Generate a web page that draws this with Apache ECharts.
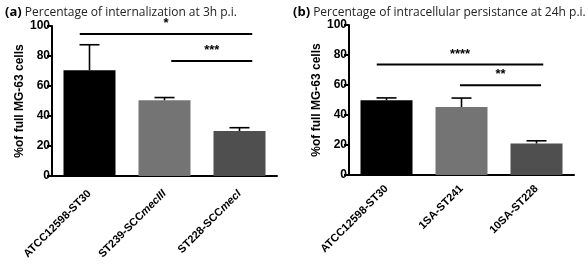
<!DOCTYPE html>
<html>
<head>
<meta charset="utf-8">
<script src="https://cdn.jsdelivr.net/npm/echarts@6/dist/echarts.min.js"></script>
<style>
  html, body { margin: 0; padding: 0; background: #fff; }
  #chart { width: 588px; height: 266px; }
</style>
</head>
<body>
<div id="chart"></div>
<script>
// panel (a) : internalization at 3h
const catsA = ['ATCC12598-ST30', 'ST239-SCCmecIII', 'ST228-SCCmecI'];
const meansA = [70.5, 50.5, 30];
const sdA = [17, 1.8, 2.2];
// significance bars : [fromCat, toCat, height, stars]
const sigA = [[0, 2, 94.7, '*'], [1, 2, 76.7, '***']];

// panel (b) : persistence at 24h
const catsB = ['ATCC12598-ST30', '1SA-ST241', '10SA-ST228'];
const meansB = [49.8, 45.3, 21];
const sdB = [1.6, 6, 1.8];
const sigB = [[0, 2, 73.6, '****'], [1, 2, 59.8, '**']];

const yTicks = [0, 20, 40, 60, 80, 100];
const barColors = ['#000000', '#747474', '#4f4f4f'];

// how far the significance lines stick out from the category centres (in bands)
const sigEndsA = [[-0.13, 0.17], [0.09, 0.17]];
const sigEndsB = [[-0.13, 0.09], [-0.02, 0.06]];

let chart = echarts.init(document.getElementById('chart'), null, {renderer: 'canvas'});

function labelFmt(v) {
  // italic "mec" part of SCCmec names
  let m = v.match(/^(.*SCC)(mec.*)$/);
  if (m) return m[1] + '{i|' + m[2] + '}';
  return v;
}

function xAxisFor(idx, cats, margin) {
  return {
    type: 'category',
    gridIndex: idx,
    data: cats,
    axisLine: {lineStyle: {color: '#000', width: 2}},
    axisTick: {alignWithLabel: true, length: 5, lineStyle: {color: '#000', width: 2}},
    axisLabel: {
      rotate: 45, interval: 0, margin: margin, color: '#000',
      fontFamily: 'Liberation Sans', fontWeight: 'bold', fontSize: 11,
      formatter: labelFmt,
      rich: {i: {fontStyle: 'italic', fontFamily: 'Liberation Sans', fontWeight: 'bold', fontSize: 11, color: '#000'}}
    }
  };
}

function yAxisFor(idx) {
  return {
    type: 'value',
    gridIndex: idx,
    min: yTicks[0], max: yTicks[yTicks.length - 1], interval: yTicks[1] - yTicks[0],
    name: '%of full MG-63 cells',
    nameLocation: 'middle',
    nameGap: 26,
    nameTextStyle: {fontFamily: 'Liberation Sans', fontWeight: 'bold', fontSize: 12, color: '#000'},
    axisLine: {show: true, lineStyle: {color: '#000', width: 2}},
    axisTick: {show: true, length: 5, lineStyle: {color: '#000', width: 2}},
    splitLine: {show: false},
    axisLabel: {color: '#000', fontFamily: 'Liberation Sans', fontWeight: 'bold', fontSize: 12, margin: 2}
  };
}

function barSeries(idx, means) {
  return {
    type: 'bar',
    xAxisIndex: idx, yAxisIndex: idx,
    barWidth: 52,
    data: means.map((v, i) => ({value: v, itemStyle: {color: barColors[i]}})),
    silent: true
  };
}

function errorSeries(idx, means, sd) {
  return {
    type: 'custom',
    xAxisIndex: idx, yAxisIndex: idx,
    data: means.map((m, i) => [i, m, sd[i]]),
    z: 5,
    renderItem: function(params, api) {
      let top = api.coord([api.value(0), api.value(1) + api.value(2)]);
      let base = api.coord([api.value(0), api.value(1)]);
      let half = 10;
      let st = {stroke: '#000', lineWidth: 1.6};
      return {
        type: 'group',
        children: [
          {type: 'line', shape: {x1: base[0], y1: base[1], x2: top[0], y2: top[1]}, style: st},
          {type: 'line', shape: {x1: top[0] - half, y1: top[1], x2: top[0] + half, y2: top[1]}, style: st}
        ]
      };
    }
  };
}

function sigSeries(idx, sig, ends) {
  return {
    type: 'custom',
    xAxisIndex: idx, yAxisIndex: idx,
    data: sig.map(s => [s[0], s[1], s[2]]),
    z: 5,
    renderItem: function(params, api) {
      let band = api.size([1, 0])[0];
      let e = ends[params.dataIndex];
      let p1 = api.coord([api.value(0), api.value(2)]);
      let p2 = api.coord([api.value(1), api.value(2)]);
      let x1 = p1[0] + e[0] * band;
      let x2 = p2[0] + e[1] * band;
      return {
        type: 'group',
        children: [
          {type: 'line', shape: {x1: x1, y1: p1[1], x2: x2, y2: p1[1]}, style: {stroke: '#000', lineWidth: 2}},
          {type: 'text', x: (x1 + x2) / 2, y: p1[1] - 4,
           style: {text: sig[params.dataIndex][3], align: 'center', verticalAlign: 'bottom',
                   font: 'bold 13px "Liberation Sans"', fill: '#000'}}
        ]
      };
    }
  };
}

let option = {
  animation: false,
  backgroundColor: '#fff',
  title: [
    {
      left: 0, top: 1,
      text: '{b|(a)} Percentage of internalization at 3h p.i.',
      textStyle: {
        fontFamily: 'Open Sans', fontSize: 12, fontWeight: 'normal', color: '#222',
        rich: {b: {fontFamily: 'Open Sans', fontSize: 13, fontWeight: 'bold', color: '#000'}}
      }
    },
    {
      left: 288, top: 1,
      text: '{b|(b)} Percentage of intracellular persistance at 24h p.i.',
      textStyle: {
        fontFamily: 'Open Sans', fontSize: 12, fontWeight: 'normal', color: '#222',
        rich: {b: {fontFamily: 'Open Sans', fontSize: 13, fontWeight: 'bold', color: '#000'}}
      }
    }
  ],
  grid: [
    {left: 52, top: 26, width: 225, height: 150},
    {left: 349, top: 25, width: 225, height: 150}
  ],
  xAxis: [xAxisFor(0, catsA, 16), xAxisFor(1, catsB, 12)],
  yAxis: [yAxisFor(0), yAxisFor(1)],
  series: [
    barSeries(0, meansA), errorSeries(0, meansA, sdA), sigSeries(0, sigA, sigEndsA),
    barSeries(1, meansB), errorSeries(1, meansB, sdB), sigSeries(1, sigB, sigEndsB)
  ]
};

chart.setOption(option);
</script>
</body>
</html>
